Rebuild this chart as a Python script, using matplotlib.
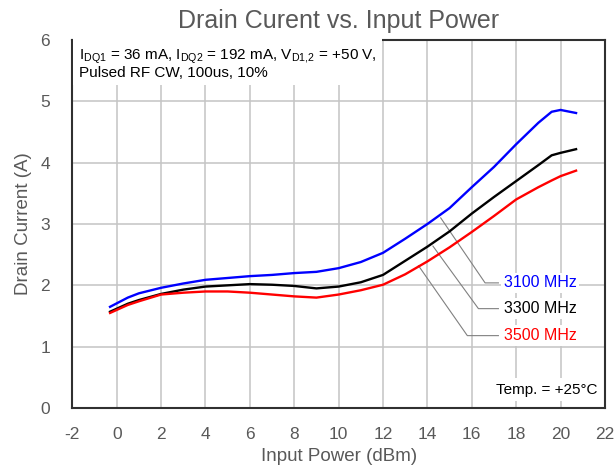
import matplotlib
matplotlib.use('Agg')
import matplotlib.pyplot as plt

plt.rcParams['font.family'] = ['Liberation Sans', 'DejaVu Sans']
plt.rcParams['axes.unicode_minus'] = False

# input power (dBm)
pin = [-0.3, 0.5, 1, 2, 3, 4, 5, 6, 7, 8, 9, 10, 11, 12, 13, 14,
       15, 16, 17, 18, 19, 19.6, 20, 20.7]

# drain current (A) per frequency
i_3100 = [1.65, 1.80, 1.87, 1.96, 2.03, 2.09, 2.12, 2.15, 2.17, 2.20, 2.22, 2.28,
          2.38, 2.53, 2.76, 3.00, 3.26, 3.60, 3.93, 4.30, 4.65, 4.83, 4.86, 4.81]
i_3300 = [1.57, 1.70, 1.76, 1.86, 1.93, 1.98, 2.00, 2.02, 2.01, 1.99, 1.95, 1.98,
          2.05, 2.17, 2.40, 2.63, 2.88, 3.17, 3.44, 3.70, 3.96, 4.12, 4.16, 4.22]
i_3500 = [1.55, 1.68, 1.74, 1.85, 1.88, 1.90, 1.90, 1.88, 1.85, 1.82, 1.80, 1.85,
          1.92, 2.01, 2.18, 2.39, 2.62, 2.87, 3.13, 3.40, 3.60, 3.71, 3.78, 3.87]

labels = ['3100 MHz', '3300 MHz', '3500 MHz']
colors = ['#0000ff', '#000000', '#ff0000']

# leader lines: start on curve, elbow, label y
leaders = [((14.6, 3.10), (16.6, 2.04)),
           ((14.25, 2.64), (16.3, 1.62)),
           ((13.6, 2.32), (15.8, 1.18))]

xticks = list(range(-2, 23, 2))
yticks = list(range(0, 7))

grey = '#595959'

fig = plt.figure(figsize=(6.15, 4.68), dpi=100)
ax = fig.add_axes([0.1176, 0.1282, 0.866, 0.7863])

for ys, c in zip([i_3100, i_3300, i_3500], colors):
    ax.plot(pin, ys, color=c, lw=1.7, zorder=3)

ax.set_xlim(-2, 22)
ax.set_ylim(0, 6)
ax.set_xticks(xticks)
ax.set_yticks(yticks)
ax.grid(True, color='#c4c4c4', lw=1.1, zorder=0)
ax.tick_params(length=0, labelsize=12.5, labelcolor=grey)
ax.tick_params(axis='x', pad=14)
ax.tick_params(axis='y', pad=16)
for s in ax.spines.values():
    s.set_color('#303030')
    s.set_linewidth(1.5)

ax.set_title('Drain Curent vs. Input Power', fontsize=18, color=grey, pad=9)
ax.set_xlabel('Input Power (dBm)', fontsize=13.5, color=grey, labelpad=4)
ax.set_ylabel('Drain Current (A)', fontsize=13.5, color=grey, labelpad=6)

# leader lines and labels
for (p0, p1), lab, c in zip(leaders, labels, colors):
    ax.plot([p0[0], p1[0], 17.2], [p0[1], p1[1], p1[1]], color='#808080', lw=0.8, zorder=2)
    ax.text(17.45, p1[1], lab, color=c, fontsize=11.5, va='center', ha='left', zorder=4,
            bbox=dict(facecolor='white', edgecolor='none', pad=2))

ax.text(-1.7, 5.88,
        'I$_{\\mathregular{DQ1}}$ = 36 mA, I$_{\\mathregular{DQ2}}$ = 192 mA, '
        'V$_{\\mathregular{D1{,}2}}$ = +50 V,\nPulsed RF CW, 100us, 10%',
        fontsize=11, va='top', ha='left', linespacing=1.0, zorder=4,
        bbox=dict(facecolor='white', edgecolor='none', pad=4))

ax.text(21.65, 0.3, 'Temp. = +25°C', fontsize=11, va='center', ha='right', zorder=4,
        bbox=dict(facecolor='white', edgecolor='none', pad=3))

fig.savefig('out.png', dpi=100)
